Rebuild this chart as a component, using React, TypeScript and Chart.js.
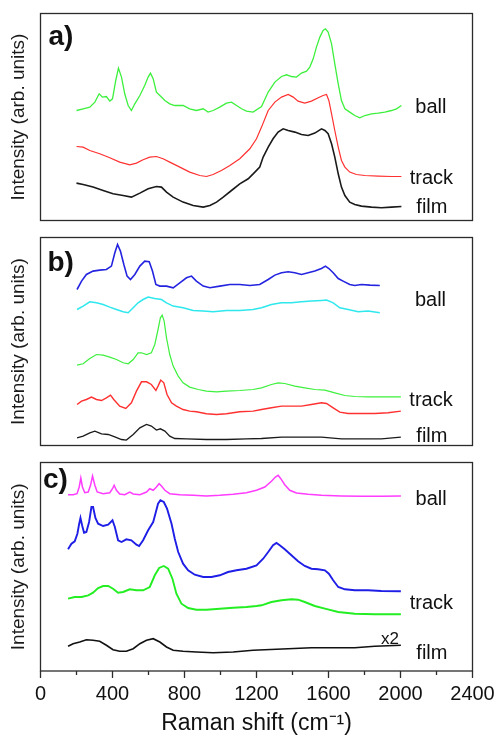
import React, { useEffect, useRef } from 'react';
import { Chart, registerables } from 'chart.js';

Chart.register(...registerables);

type Pt = [number, number];

const FONT = '"Liberation Sans", Arial, Helvetica, sans-serif';
Chart.defaults.font.family = FONT;
Chart.defaults.color = '#111';

// ---------- Panel a) ----------
const aBall: Pt[] = [[200,110],[237,111.7],[274,113.4],[302,118.4],[326,126.7],[344,123.4],[366,124],[385,119.4],[400,121.7],[418,140],[433,152.4],[450,143.4],[468,126.7],[487,115],[505,110],[524,116.7],[552,125],[579,135],[598,143.4],[611,147.4],[626,141.7],[644,128.4],[663,125],[691,120],[718,116.7],[746,115],[792,115],[829,111.7],[866,110],[904,111.7],[931,108.4],[959,110],[996,113.4],[1033,117.4],[1061,118.4],[1089,115],[1117,111.7],[1144,109.4],[1181,108.4],[1228,114],[1265,128.4],[1302,138.4],[1339,144],[1367,145.7],[1394,144],[1422,143.4],[1450,147.4],[1478,149.4],[1496,153.4],[1515,161.7],[1533,173.4],[1552,183.4],[1570,190],[1583,191.7],[1598,188.4],[1617,176.7],[1635,156.7],[1654,136.7],[1672,120],[1691,111.7],[1718,108.4],[1746,105],[1774,102.7],[1802,105],[1839,106.7],[1876,107.4],[1913,108.4],[1950,110],[1978,111.7],[2005,115]];
const aTrack: Pt[] = [[200,74],[237,73.4],[274,70],[329,66.7],[385,62.7],[440,58.4],[496,55.7],[533,57.4],[570,60.7],[607,63.4],[644,64],[681,61.7],[718,58.4],[774,53.4],[829,48.4],[885,45],[922,44],[959,46],[1005,50],[1052,55],[1107,61.7],[1163,71.7],[1200,81.7],[1228,93.4],[1265,110],[1302,118.4],[1339,123.4],[1376,126],[1404,123.4],[1431,119.4],[1468,117.4],[1505,119.4],[1543,122.7],[1570,125],[1589,126],[1602,120],[1617,106.7],[1635,90],[1654,73.4],[1672,60],[1691,53.4],[1718,48.4],[1755,46],[1802,45],[1876,44.4],[1950,44],[2005,44]];
const aFilm: Pt[] = [[200,37.4],[237,36],[292,33.4],[348,30],[403,26.7],[459,25],[505,23.4],[552,27.4],[598,31.7],[644,34],[672,33.4],[700,28.4],[737,23.4],[792,18.4],[848,15],[904,13.4],[941,15],[978,18.4],[1015,23.4],[1061,30],[1107,36.7],[1154,41.7],[1191,48.4],[1218,53.4],[1237,63.4],[1265,73.4],[1292,81.7],[1320,88.4],[1348,91.7],[1376,90],[1413,88.4],[1450,86],[1487,85],[1524,87.4],[1561,91.7],[1580,90],[1598,86.7],[1617,76.7],[1635,63.4],[1654,46.7],[1672,33.4],[1691,25],[1718,18.4],[1746,16],[1783,14.4],[1839,13.4],[1894,12.7],[1950,13.4],[2005,14]];

// ---------- Panel b) ----------
const bBall1: Pt[] = [[203,156],[228,164.4],[255,171],[292,174.4],[329,175.4],[366,176],[394,179.4],[413,192.7],[428,201],[444,194.4],[463,181],[481,169.4],[500,166],[524,171],[552,179.4],[579,184.4],[604,183.7],[622,174.4],[641,161],[663,159.4],[700,159.4],[737,157.7],[774,162.7],[811,167.7],[839,169.4],[866,164.4],[904,159.4],[941,157.7],[996,159.4],[1052,161],[1107,161],[1163,160],[1218,161],[1265,166],[1302,170.4],[1339,172.7],[1376,173.7],[1413,172.7],[1450,171],[1487,172.7],[1524,174.4],[1561,177],[1583,179.4],[1602,177],[1626,172.7],[1654,167],[1681,164.4],[1718,161],[1746,160],[1783,161],[1830,160.4],[1885,160]];
const bBall2: Pt[] = [[203,136],[237,139.4],[274,143.7],[311,142.7],[348,141],[385,138.4],[422,136],[459,133.7],[487,132.7],[515,137.7],[542,142.7],[570,146],[598,148.4],[635,147],[672,146],[700,142.7],[737,139.4],[792,137.7],[848,135],[904,134.4],[959,133.7],[1033,135],[1107,135],[1181,136],[1228,137.7],[1283,141],[1339,142.7],[1394,142.7],[1450,143.7],[1505,144.4],[1561,145],[1589,145.4],[1626,142.7],[1663,137.7],[1709,136],[1765,133.7],[1820,134.4],[1885,132.7]];
const bTrack1: Pt[] = [[203,80.4],[237,81.7],[274,87],[311,91],[348,90.4],[385,88.4],[422,86],[459,82.7],[487,81.7],[515,86],[542,92.7],[561,92.7],[589,91],[616,92.7],[635,101],[653,116],[666,127.7],[676,130.4],[687,124.4],[700,107.7],[718,91],[737,79.4],[765,69.4],[792,62.7],[829,58.4],[876,56],[922,54.4],[978,53.7],[1033,54.4],[1107,55],[1181,56],[1228,57.7],[1283,61],[1320,62.7],[1357,62],[1413,59.4],[1468,57.7],[1524,56],[1580,55.4],[1635,52.7],[1691,50],[1746,49],[1820,48.7],[1894,48.7],[2002,48.7]];
const bTrack2: Pt[] = [[203,41],[228,44.4],[255,46],[283,48.4],[311,46],[339,45],[366,47.7],[389,50.4],[407,46],[440,39.4],[474,37],[505,42.7],[533,54.4],[561,63.7],[589,63.7],[616,61],[641,55],[653,59.4],[668,65.4],[685,62.7],[703,51],[728,42.7],[755,39.4],[792,36],[829,34.4],[866,33.7],[922,31.7],[978,31],[1033,31.7],[1107,33.7],[1181,34.4],[1228,36],[1283,37.7],[1339,39.4],[1394,39.4],[1450,39.4],[1505,41],[1561,42.7],[1589,42],[1626,37.7],[1663,33.4],[1709,32],[1783,32],[1857,32],[1931,32.7],[2002,34.4]];
const bFilm: Pt[] = [[203,7.7],[237,9.4],[274,12.7],[302,14.4],[339,11.7],[376,11],[413,8.7],[450,6],[477,5.4],[515,11],[552,17.7],[589,21],[616,19.4],[644,15.4],[666,16.7],[691,14.4],[718,9.4],[746,7],[811,6.7],[922,6],[1033,6],[1144,6.7],[1228,7],[1339,8.4],[1450,8.4],[1561,8.4],[1672,6.7],[1783,6.7],[1894,6.7],[2002,8.4]];

// ---------- Panel c) ----------
const cBall: Pt[] = [[153,176.3],[181,176.3],[203,177.3],[215,184],[224,193],[233,184],[246,178.3],[265,179],[278,185.7],[289,195],[302,185.7],[315,179],[348,177.3],[385,178.3],[400,182.3],[409,185.7],[422,180.7],[440,177],[468,176.3],[496,179],[515,177],[552,176.3],[589,179],[607,182.3],[626,180.7],[644,184],[659,187.3],[672,185],[691,180.7],[718,177.3],[774,176.3],[848,175.7],[922,175],[996,175.7],[1070,176.7],[1144,178.3],[1200,180.7],[1246,184],[1283,189.7],[1305,194],[1320,195.7],[1335,192.3],[1357,186.3],[1385,180.7],[1422,178],[1487,176.7],[1561,175.7],[1672,175],[1783,174.7],[1894,174.7],[2002,175]];
const cTrack1: Pt[] = [[153,121.7],[172,127.3],[190,129.7],[205,137.3],[215,147.3],[222,153],[231,145.7],[242,138.3],[255,139],[270,149],[283,164],[292,164],[305,153],[320,147.3],[348,145],[376,146.3],[400,150.7],[413,144],[431,130.7],[450,129],[477,131.7],[505,130.7],[533,126.3],[548,125],[570,130.7],[598,140.7],[626,149],[641,159],[653,167.3],[666,170.7],[685,169],[703,162.3],[728,147.3],[746,132.3],[765,119],[792,107.3],[820,100.7],[857,96.3],[904,94],[950,94],[996,95.7],[1042,99],[1089,100.7],[1144,102.3],[1200,105.7],[1237,112.3],[1265,119],[1292,125.7],[1311,128],[1329,125.7],[1357,121.7],[1394,115.7],[1431,109.7],[1468,105],[1505,102.3],[1542,101.7],[1580,100.7],[1602,97.3],[1626,90.7],[1654,84],[1691,81.7],[1746,80.7],[1820,80.7],[1894,80],[2002,79.7]];
const cTrack2: Pt[] = [[153,72.3],[190,74],[228,74],[265,75.7],[292,78.3],[320,83],[348,85],[376,85],[403,82.3],[431,78.3],[459,79],[496,81.7],[533,80.7],[570,80.7],[607,84],[635,95.7],[659,103],[685,105],[709,102.3],[733,92.3],[755,77.3],[783,67.3],[820,63],[866,61.3],[922,61.3],[996,62.3],[1070,63.3],[1144,64],[1200,65],[1228,65.7],[1283,69],[1339,70.7],[1394,71.7],[1431,71.3],[1468,69],[1524,65],[1580,62.3],[1654,59],[1746,57.3],[1857,56.7],[2002,56.7]];
const cFilm: Pt[] = [[153,24.7],[181,27.3],[218,29],[255,31.3],[292,30.7],[329,29.7],[366,25.7],[403,21.3],[440,19.7],[477,19.7],[515,22.3],[552,27.3],[589,30.7],[626,32.3],[663,29],[700,24],[737,20.7],[792,19.7],[866,19],[959,18.3],[1070,19],[1181,20.7],[1246,21.3],[1376,22.3],[1505,23.3],[1635,23.3],[1746,23.3],[1857,24.7],[2002,25.7]];

// text annotations (data coordinates)
interface Note { text: string; x: number; y: number; size?: number }
const aNotes: Note[] = [
  { text: 'ball', x: 2082, y: 107.7 },
  { text: 'track', x: 2051, y: 37 },
  { text: 'film', x: 2088, y: 7.7 },
];
const bNotes: Note[] = [
  { text: 'ball', x: 2080, y: 139.5 },
  { text: 'track', x: 2049, y: 39.2 },
  { text: 'film', x: 2088, y: 3.6 },
];
const cNotes: Note[] = [
  { text: 'ball', x: 2084, y: 165.7 },
  { text: 'track', x: 2051, y: 61.7 },
  { text: 'film', x: 2088, y: 11.7 },
  { text: 'x2', x: 1891, y: 27.3, size: 17 },
];

const xTickValues = [0, 400, 800, 1200, 1600, 2000, 2400];

interface Series { pts: Pt[]; color: string; width: number }
interface PanelSpec {
  letter: string;
  letterDx: number;
  letterDy: number;
  series: Series[];
  notes: Note[];
  yMax: number;
  canvasTop: number;
  canvasH: number;
  padTop: number;
  padBottom: number;
  showX: boolean;
}

const LEFT = 40.5;
const RIGHT = 472.5;

const panels: PanelSpec[] = [
  {
    letter: 'a)', letterDx: 8, letterDy: 31.5,
    series: [
      { pts: aBall, color: '#3df03d', width: 1.3 },
      { pts: aTrack, color: '#ff3030', width: 1.2 },
      { pts: aFilm, color: '#1a1a1a', width: 1.6 },
    ],
    notes: aNotes, yMax: 207, canvasTop: 0, canvasH: 230, padTop: 13.5, padBottom: 9.5, showX: false,
  },
  {
    letter: 'b)', letterDx: 7, letterDy: 33.5,
    series: [
      { pts: bBall1, color: '#2424e0', width: 1.6 },
      { pts: bBall2, color: '#2ee8ee', width: 1.5 },
      { pts: bTrack1, color: '#3df03d', width: 1.2 },
      { pts: bTrack2, color: '#ff3030', width: 1.4 },
      { pts: bFilm, color: '#1a1a1a', width: 1.3 },
    ],
    notes: bNotes, yMax: 208, canvasTop: 230, canvasH: 225, padTop: 7.5, padBottom: 9.5, showX: false,
  },
  {
    letter: 'c)', letterDx: 2.5, letterDy: 25.5,
    series: [
      { pts: cBall, color: '#ff3cff', width: 1.5 },
      { pts: cTrack1, color: '#1e1ee6', width: 1.9 },
      { pts: cTrack2, color: '#22ee22', width: 1.9 },
      { pts: cFilm, color: '#111111', width: 1.6 },
    ],
    notes: cNotes, yMax: 208.5, canvasTop: 455, canvasH: 281, padTop: 7.5, padBottom: 0, showX: true,
  },
];

function buildConfig(p: PanelSpec): any {
  const decor = {
    id: 'panelDecor',
    afterDatasetsDraw(chart: any) {
      const { ctx, chartArea: a, scales } = chart;
      ctx.save();
      ctx.strokeStyle = '#2b2b2b';
      ctx.lineWidth = 1.3;
      ctx.strokeRect(a.left, a.top, a.right - a.left, a.bottom - a.top);
      ctx.fillStyle = '#111';
      ctx.textBaseline = 'alphabetic';
      ctx.textAlign = 'left';
      ctx.font = `bold 28px ${FONT}`;
      ctx.fillText(p.letter, a.left + p.letterDx, a.top + p.letterDy);
      for (const n of p.notes) {
        ctx.font = `${n.size ?? 20}px ${FONT}`;
        ctx.fillText(n.text, scales.x.getPixelForValue(n.x), scales.y.getPixelForValue(n.y));
      }
      ctx.restore();
    },
  };

  return {
    type: 'line',
    data: {
      datasets: p.series.map((s) => ({
        data: s.pts.map(([x, y]) => ({ x, y })),
        borderColor: s.color,
        borderWidth: s.width,
        pointRadius: 0,
        tension: 0,
        fill: false,
      })),
    },
    options: {
      animation: false,
      responsive: false,
      maintainAspectRatio: false,
      parsing: true,
      layout: { padding: { left: 0, right: 499 - RIGHT, top: p.padTop, bottom: p.padBottom } },
      plugins: { legend: { display: false }, tooltip: { enabled: false }, title: { display: false } },
      scales: {
        x: {
          type: 'linear',
          min: 0,
          max: 2400,
          display: p.showX,
          afterBuildTicks: (s: any) => {
            if (p.showX) {
              const out: any[] = [];
              for (let i = 0; i < xTickValues.length; i++) {
                out.push({ value: xTickValues[i], major: true });
                if (i < xTickValues.length - 1) out.push({ value: (xTickValues[i] + xTickValues[i + 1]) / 2, major: false });
              }
              s.ticks = out;
            }
          },
          ticks: {
            autoSkip: false,
            maxRotation: 0,
            minRotation: 0,
            padding: 4,
            color: '#111',
            font: { size: 20, family: FONT },
            callback: (v: number) => (xTickValues.includes(v) ? String(v) : ''),
          },
          grid: {
            display: true,
            drawOnChartArea: false,
            drawTicks: true,
            tickLength: 7,
            tickColor: '#2b2b2b',
            tickWidth: 1.3,
            tickBorderDash: (c: any) => (c.tick && !xTickValues.includes(c.tick.value) ? [4, 20] : []),
          },
          border: { display: false },
          title: {
            display: true,
            text: 'Raman shift (cm\u207B\u00B9)',
            color: '#111',
            font: { size: 23, family: FONT, lineHeight: 1 },
            padding: { top: 0, bottom: 0.5 },
          },
          afterFit: (s: any) => {
            if (p.showX) s.height = 65;
          },
        },
        y: {
          type: 'linear',
          min: 0,
          max: p.yMax,
          display: true,
          ticks: { display: false },
          grid: { display: false, drawTicks: false },
          border: { display: false },
          title: {
            display: true,
            text: 'Intensity (arb. units)',
            color: '#1a1a1a',
            font: { size: 19, family: FONT, lineHeight: 1.2 },
            padding: { top: 7.6, bottom: 0 },
          },
          afterFit: (s: any) => {
            s.width = LEFT;
          },
        },
      },
    },
    plugins: [decor],
  };
}

function Panel({ spec }: { spec: PanelSpec }) {
  const ref = useRef<HTMLCanvasElement>(null);
  useEffect(() => {
    const chart = new Chart(ref.current as HTMLCanvasElement, buildConfig(spec));
    return () => chart.destroy();
  }, [spec]);
  return (
    <canvas
      ref={ref}
      width={499}
      height={spec.canvasH}
      style={{ position: 'absolute', left: 0, top: spec.canvasTop, width: 499, height: spec.canvasH, display: 'block' }}
    />
  );
}

export default function App() {
  return (
    <div style={{ position: 'absolute', left: 0, top: 0, width: 499, height: 736, background: '#ffffff', overflow: 'hidden' }}>
      {panels.map((p) => (
        <Panel key={p.letter} spec={p} />
      ))}
    </div>
  );
}
